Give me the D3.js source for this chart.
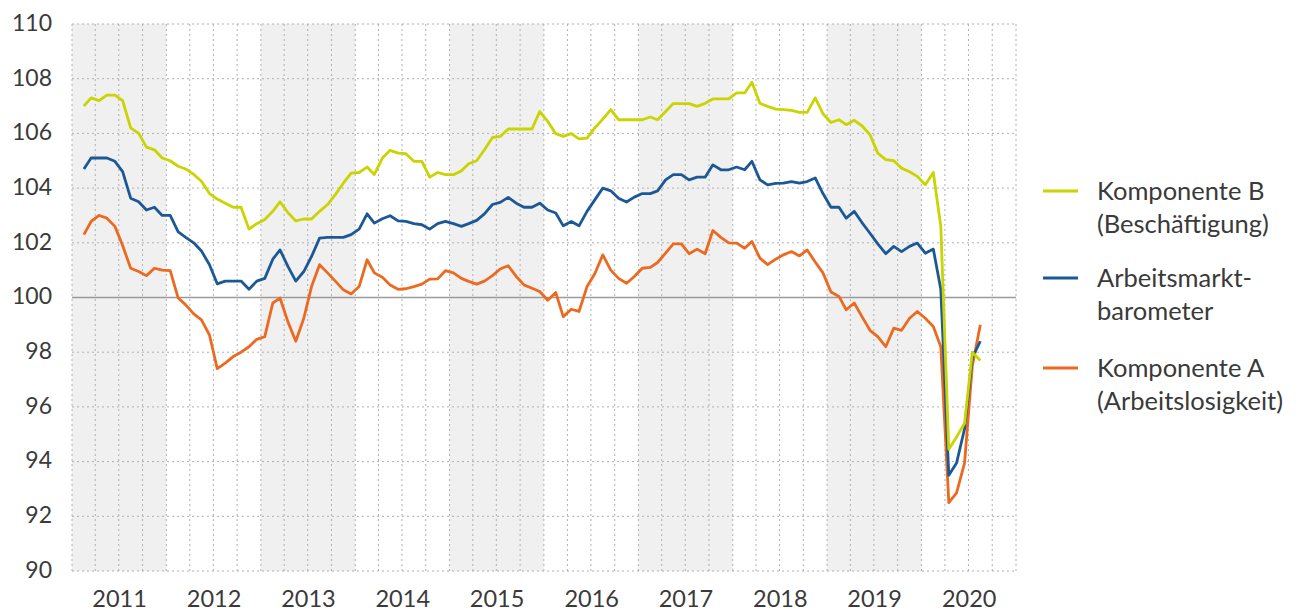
<!DOCTYPE html>
<html>
<head>
<meta charset="utf-8">
<script src="https://cdn.jsdelivr.net/npm/d3@7"></script>
<style>
  body { margin: 0; background: #fff; }
  svg text { font-family: Lato, "Open Sans", sans-serif; fill: #3a3a3a; }
</style>
</head>
<body>
<div class="container"></div>
<script>
// monthly values, first point = Feb 2011, last = Aug 2020
const firstMonth = [2011, 1]
const years = [2011, 2012, 2013, 2014, 2015, 2016, 2017, 2018, 2019, 2020]
const yTicks = [90, 92, 94, 96, 98, 100, 102, 104, 106, 108, 110]

const kompB = [107.0, 107.3, 107.2, 107.4, 107.4, 107.2, 106.2, 106.0, 105.5, 105.4, 105.1,
  105.0, 104.8, 104.7, 104.5, 104.25, 103.8, 103.6, 103.45, 103.3, 103.3, 102.5, 102.7,
  102.85, 103.15, 103.5, 103.1, 102.8, 102.87, 102.87, 103.15, 103.4, 103.76, 104.18, 104.55,
  104.57, 104.77, 104.5, 105.1, 105.38, 105.28, 105.26, 104.98, 104.98, 104.4, 104.57, 104.49,
  104.49, 104.63, 104.89, 105.0, 105.4, 105.85, 105.89, 106.16, 106.16, 106.16, 106.16, 106.8,
  106.44, 105.99, 105.89, 105.99, 105.8, 105.83, 106.2, 106.52, 106.87, 106.5, 106.5, 106.5,
  106.5, 106.6, 106.5, 106.8, 107.09, 107.09, 107.09, 106.99, 107.1, 107.26, 107.26, 107.26,
  107.48, 107.48, 107.87, 107.1, 106.99, 106.89, 106.87, 106.84, 106.77, 106.77, 107.3, 106.72,
  106.4, 106.5, 106.32, 106.48, 106.28, 105.95, 105.28, 105.04, 105.0, 104.73, 104.6, 104.43,
  104.12, 104.57, 102.6, 94.45, 94.9, 95.4, 98.0, 97.7]

const barometer = [104.7, 105.1, 105.1, 105.1, 104.98, 104.6, 103.63, 103.5, 103.2, 103.3, 103.0,
  103.0, 102.4, 102.2, 102.0, 101.7, 101.2, 100.5, 100.6, 100.6, 100.6, 100.3, 100.6,
  100.7, 101.4, 101.74, 101.13, 100.6, 100.95, 101.5, 102.17, 102.2, 102.2, 102.2, 102.3,
  102.5, 103.06, 102.72, 102.88, 102.99, 102.8, 102.78, 102.7, 102.66, 102.5, 102.7, 102.78,
  102.7, 102.6, 102.7, 102.82, 103.06, 103.4, 103.48, 103.66, 103.45, 103.3, 103.3, 103.45,
  103.2, 103.09, 102.62, 102.78, 102.62, 103.15, 103.57, 104.0, 103.9, 103.63, 103.49, 103.67,
  103.8, 103.8, 103.9, 104.3, 104.49, 104.49, 104.3, 104.4, 104.4, 104.85, 104.67, 104.67,
  104.77, 104.67, 104.98, 104.3, 104.12, 104.17, 104.18, 104.24, 104.18, 104.24, 104.37, 103.8,
  103.3, 103.3, 102.9, 103.15, 102.74, 102.35, 101.96, 101.6, 101.87, 101.68, 101.87, 101.99,
  101.62, 101.77, 100.3, 93.5, 93.95, 95.2, 97.8, 98.4]

const kompA = [102.3, 102.78, 103.0, 102.9, 102.6, 101.9, 101.07, 100.95, 100.8, 101.07, 101.0,
  100.98, 99.98, 99.73, 99.4, 99.18, 98.63, 97.4, 97.6, 97.84, 98.0, 98.2, 98.47,
  98.57, 99.8, 99.98, 99.1, 98.4, 99.24, 100.4, 101.2, 100.9, 100.6, 100.28, 100.13,
  100.4, 101.38, 100.9, 100.74, 100.46, 100.3, 100.32, 100.4, 100.49, 100.67, 100.68, 100.98,
  100.9, 100.7, 100.59, 100.49, 100.6, 100.8, 101.04, 101.16, 100.77, 100.46, 100.34, 100.22,
  99.9, 100.18, 99.3, 99.57, 99.49, 100.4, 100.87, 101.56, 101.0, 100.7, 100.52, 100.77,
  101.07, 101.1, 101.28, 101.62, 101.96, 101.96, 101.6, 101.77, 101.6, 102.45, 102.2, 102.0,
  101.99, 101.8, 102.05, 101.44, 101.2, 101.4, 101.56, 101.68, 101.52, 101.74, 101.3, 100.9,
  100.2, 100.04, 99.55, 99.8, 99.3, 98.8, 98.57, 98.2, 98.88, 98.8, 99.24, 99.49,
  99.24, 98.94, 98.2, 92.5, 92.86, 93.95, 97.5, 99.0]

const w = 1305
const h = 612
const plotLeft = 72, plotRight = 1016, plotTop = 24, plotBottom = 571

const svg = d3.select(".container")
  .append("svg")
  .attr("width", w)
  .attr("height", h)

const x = d3.scaleTime()
  .domain([new Date(years[0], 0, 1), new Date(years[years.length - 1] + 1, 0, 1)])
  .range([plotLeft, plotRight])

const y = d3.scaleLinear()
  .domain([90, 110])
  .range([plotBottom, plotTop])

const monthDate = (i) => new Date(firstMonth[0], firstMonth[1] + i, 16)

// grey bands every other year
svg.selectAll("rect.band")
  .data(years.filter((d, i) => i % 2 == 0))
  .enter()
  .append("rect")
  .attr("class", "band")
  .attr("x", d => x(new Date(d, 0, 1)))
  .attr("width", d => x(new Date(d + 1, 0, 1)) - x(new Date(d, 0, 1)))
  .attr("y", plotTop)
  .attr("height", plotBottom - plotTop)
  .attr("fill", "#f0f0f0")

// dotted grid
const quarters = d3.timeMonth.every(3).range(x.domain()[0], d3.timeDay.offset(x.domain()[1], 1))
svg.append("g")
  .selectAll("line")
  .data(quarters)
  .enter()
  .append("line")
  .attr("x1", d => x(d)).attr("x2", d => x(d))
  .attr("y1", plotTop).attr("y2", plotBottom)
  .attr("stroke", "#b0b0b0")
  .attr("stroke-dasharray", "2,3")

svg.append("g")
  .selectAll("line")
  .data(yTicks)
  .enter()
  .append("line")
  .attr("x1", plotLeft).attr("x2", plotRight)
  .attr("y1", d => y(d)).attr("y2", d => y(d))
  .attr("stroke", "#b0b0b0")
  .attr("stroke-dasharray", "2,3")

// 100 line
svg.append("line")
  .attr("x1", plotLeft).attr("x2", plotRight)
  .attr("y1", y(100)).attr("y2", y(100))
  .attr("stroke", "#9a9a9a")
  .attr("stroke-width", 1.5)

// y axis labels
const yAxis = d3.axisLeft(y).tickValues(yTicks).tickSize(0).tickPadding(0)
svg.append("g")
  .attr("transform", "translate(52,-1)")
  .call(yAxis)
  .call(g => g.select(".domain").remove())
  .selectAll("text")
  .attr("font-size", 23)
  .attr("font-family", "Lato, sans-serif")
  .attr("fill", "#3a3a3a")

// x axis year labels
const xAxis = d3.axisBottom(x)
  .tickValues(years.map(d => new Date(d, 6, 2)))
  .tickFormat(d3.timeFormat("%Y"))
  .tickSize(0)
  .tickPadding(0)
svg.append("g")
  .attr("transform", "translate(0,590)")
  .call(xAxis)
  .call(g => g.select(".domain").remove())
  .selectAll("text")
  .attr("font-size", 23.5)
  .attr("font-family", "Lato, sans-serif")
  .attr("fill", "#3a3a3a")

const line = d3.line()
  .x((d, i) => x(monthDate(i)))
  .y(d => y(d))

const colors = ["#ec6a1f", "#1c5896", "#c9d400"]
const allSeries = [kompA, barometer, kompB]

svg.selectAll("path.series")
  .data(allSeries)
  .enter()
  .append("path")
  .attr("class", "series")
  .attr("d", d => line(d))
  .attr("fill", "none")
  .attr("stroke", (d, i) => colors[i])
  .attr("stroke-width", 2.8)
  .attr("stroke-linejoin", "round")

// legend
const legend = [
  { lines: ["Komponente B", "(Beschäftigung)"], color: colors[2], y: 191 },
  { lines: ["Arbeitsmarkt-", "barometer"], color: colors[1], y: 278 },
  { lines: ["Komponente A", "(Arbeitslosigkeit)"], color: colors[0], y: 368 }
]
const lg = svg.selectAll("g.legend")
  .data(legend)
  .enter()
  .append("g")
  .attr("class", "legend")
  .attr("transform", d => "translate(0," + d.y + ")")

lg.append("line")
  .attr("x1", 1043).attr("x2", 1078)
  .attr("stroke", d => d.color)
  .attr("stroke-width", 3)

lg.append("text")
  .attr("x", 1097)
  .attr("font-size", 25.5)
  .selectAll("tspan")
  .data(d => d.lines)
  .enter()
  .append("tspan")
  .attr("x", 1097)
  .attr("y", (d, i) => 9 + i * 33)
  .text(d => d)
</script>
</body>
</html>
